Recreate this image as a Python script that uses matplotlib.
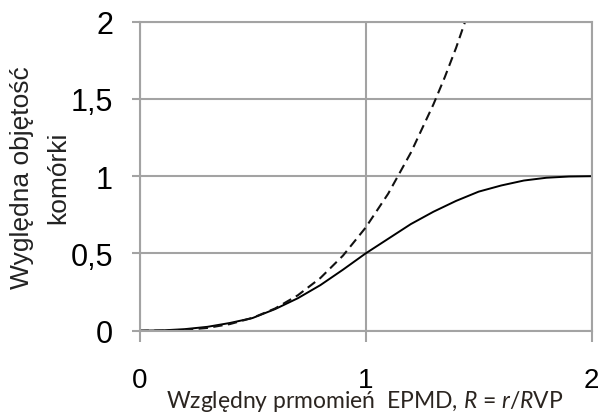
import matplotlib
matplotlib.use("Agg")
import matplotlib.pyplot as plt

# values
r_solid = [0.0, 0.1, 0.2, 0.3, 0.4, 0.5, 0.6, 0.7, 0.8, 0.9, 1.0,
           1.1, 1.2, 1.3, 1.4, 1.5, 1.6, 1.7, 1.8, 1.9, 2.0]
v_solid = [0.0, 0.002, 0.01, 0.025, 0.05, 0.082, 0.14, 0.21, 0.295, 0.395, 0.5,
           0.595, 0.69, 0.77, 0.84, 0.9, 0.94, 0.972, 0.99, 0.998, 1.0]

r_dashed = [0.0, 0.1, 0.2, 0.3, 0.4, 0.5, 0.6, 0.7, 0.8, 0.9, 1.0,
            1.1, 1.2, 1.3, 1.35, 1.4, 1.44]
v_dashed = [0.0, 0.0007, 0.005, 0.018, 0.043, 0.083, 0.144, 0.229, 0.341, 0.486, 0.667,
            0.887, 1.152, 1.465, 1.64, 1.83, 2.0]

x_ticks = [0, 1, 2]
x_labels = ["0", "1", "2"]
y_ticks = [0, 0.5, 1, 1.5, 2]
y_labels = ["0", "0,5", "1", "1,5", "2"]

plt.rcParams['font.family'] = ['Liberation Sans', 'DejaVu Sans']
plt.rcParams['mathtext.fontset'] = 'custom'
plt.rcParams['mathtext.it'] = 'Lato:italic'
plt.rcParams['mathtext.rm'] = 'Lato'

grid_col = '#a3a3a3'

fig = plt.figure(figsize=(6.01, 4.14), dpi=100)
ax = fig.add_axes([139.5 / 601, 1 - 331.7 / 414, 452.2 / 601, 309 / 414])

ax.plot(r_solid, v_solid, color='black', lw=1.4)
ax.plot(r_dashed, v_dashed, color='#111111', lw=1.5, dashes=(4.5, 2.6))

ax.set_xlim(0, 2)
ax.set_ylim(0, 2)
ax.set_xticks(x_ticks)
ax.set_xticklabels(x_labels, fontsize=20)
ax.set_yticks(y_ticks)
ax.set_yticklabels(y_labels, fontsize=22)
ax.grid(True, color=grid_col, lw=1.5)
for s in ax.spines.values():
    s.set_color(grid_col)
    s.set_linewidth(1.5)
ax.tick_params(axis='x', length=8, width=1.5, color=grid_col, pad=18)
ax.tick_params(axis='y', length=6, width=1.5, color=grid_col, pad=13)

fig.text(40 / 601, 1 - 178 / 414, "Wyględna objętość\nkomórki", rotation=90,
         ha='center', va='center', multialignment='center', fontsize=19,
         linespacing=1.65, color='#222222')
fig.text(364.5 / 601, 1 - 402 / 414,
         "Względny prmomień  EPMD, $R$ = $r$/$R$VP",
         family=['Lato', 'DejaVu Sans'], fontsize=16.5, color='#2b2520',
         ha='center', va='center')

fig.savefig("out.png", dpi=100)
